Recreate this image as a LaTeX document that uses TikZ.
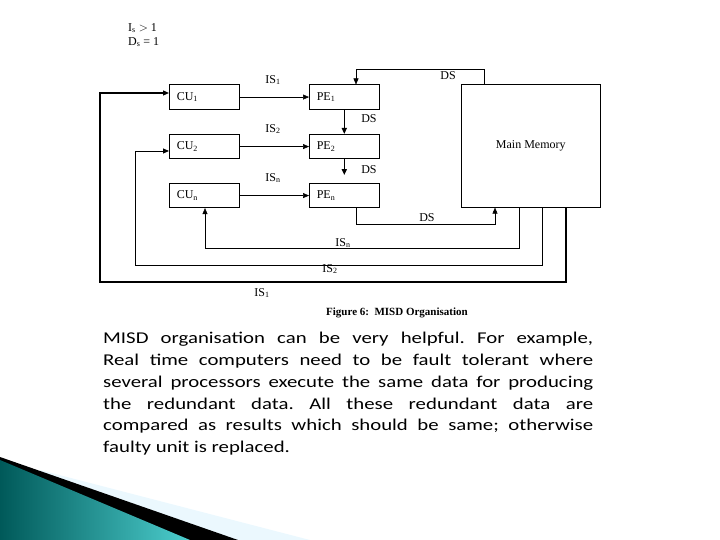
\documentclass[tikz,border=0pt]{standalone}
\usepackage{fontspec}
\setmainfont{Liberation Serif}
\newfontfamily\bodyfont[FakeStretch=1.26]{Carlito}
\usetikzlibrary{arrows.meta,positioning}
\tikzstyle{unit}=[draw,line width=0.6pt,minimum width=70pt,minimum height=24.5pt,inner sep=0,font=\fontsize{12}{14}\selectfont]
\tikzstyle{lbl}=[font=\fontsize{12}{14}\selectfont,inner sep=0]
\tikzstyle{fl}=[-{Triangle[length=6pt,width=5pt]},line width=0.5pt]
\begin{document}
\frenchspacing
\begin{tikzpicture}[x=1pt,y=-1pt]
\useasboundingbox (0,0) rectangle (720,540);
% bottom-left ribbon
\fill[cyan!8!white] (40,470) -- (310,540) -- (0,540) -- cycle;
\fill[black] (0,457) -- (238,540) -- (0,540) -- cycle;
\shade[left color=teal!70!black,right color=cyan!45!teal!70] (0,460) -- (190,540) -- (0,540) -- cycle;
% legend
\node[lbl,anchor=west] (cnt) at (128,28) {I\textsubscript{s} $>$ 1};
\node[lbl,anchor=west] (dat) at (128,42) {D\textsubscript{s} = 1};
% units
\node[unit,anchor=north west,text width=55pt] (cu1) at (169,84.5) {CU\textsubscript{1}};
\node[unit,anchor=north west,text width=55pt] (cu2) at (169,134) {CU\textsubscript{2}};
\node[unit,anchor=north west,text width=55pt] (cun) at (169,183) {CU\textsubscript{n}};
\node[unit,anchor=north west,text width=55pt] (pe1) at (309,84.5) {PE\textsubscript{1}};
\node[unit,anchor=north west,text width=55pt] (pe2) at (309,134) {PE\textsubscript{2}};
\node[unit,anchor=north west,text width=55pt] (pen) at (309,183) {PE\textsubscript{n}};
\node[unit,anchor=north west,minimum width=139pt,minimum height=123pt] (mm) at (461,84) {Main Memory};
% instruction streams CU -> PE
\draw[fl] (cu1) -- (pe1);
\draw[fl] (cu2) -- (pe2);
\draw[fl] (cun) -- (pen);
\node[lbl] (is1a) at (273,80) {IS\textsubscript{1}};
\node[lbl] (is2a) at (273,129) {IS\textsubscript{2}};
\node[lbl] (isna) at (273,178) {IS\textsubscript{n}};
% data streams
\draw[fl] (mm.north west -| 484,0) |- (356,69) -- (pe1.north -| 356,0);
\draw[fl,line width=1.6pt] (pe1.south) -- (pe2.north);
\draw[fl,line width=1.6pt] (pe2.south) -- ++(0,16);
\draw[fl] (pen.south -| 356,0) |- (495,224) -- (mm.south -| 495,0);
\node[lbl] (ds0) at (448,76) {DS};
\node[lbl] (ds1) at (369,119) {DS};
\node[lbl] (ds2) at (369,170) {DS};
\node[lbl] (ds3) at (427,218) {DS};
% instruction streams MM -> CU
\draw[fl] (mm.south -| 519,0) |- (205,248) -- (cun.south -| 205,0);
\draw[fl,line width=0.9pt] (mm.south -| 542,0) |- (135,265) |- (cu2.west |- 0,151);
\draw[fl,line width=1.2pt] (mm.south -| 566,0) |- (100,282) |- (cu1.west |- 0,93);
\node[lbl] (isnb) at (343,243) {IS\textsubscript{n}};
\node[lbl] (is2b) at (330,269) {IS\textsubscript{2}};
\node[lbl] (is1b) at (262,293) {IS\textsubscript{1}};
\node[lbl,font=\fontsize{11}{13}\selectfont\bfseries] (cap) at (397,313) {Figure 6:\ \ MISD Organisation};
% text
\node[anchor=north west,inner sep=0,text width=490pt,align=justify,font=\bodyfont\fontsize{16.5}{21.8}\selectfont] (txt) at (103,332)
{MISD organisation can be very helpful. For example,\linebreak Real time computers need to be fault tolerant where\linebreak several processors execute the same data for producing\linebreak the redundant data. All these redundant data are\linebreak compared as results which should be same; otherwise\linebreak faulty unit is replaced.};
\end{tikzpicture}
\end{document}
